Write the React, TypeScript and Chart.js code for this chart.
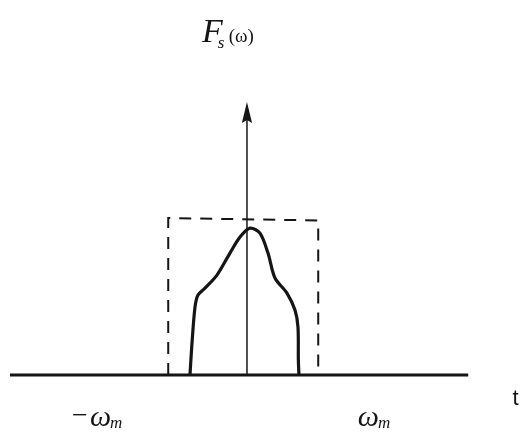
import React, { useEffect, useRef } from "react";
import { Chart, registerables } from "chart.js";

Chart.register(...registerables);

// Frequency axis in units of ω_m, amplitude in units of the ideal filter height
const X_MIN = -3.293;
const X_MAX = 3.787;
const Y_MIN = -0.369;
const Y_MAX = 2.389;

// Horizontal (frequency) axis extent
const axisX = [-3.16, 2.95];
// Vertical axis: from the baseline up to the arrow tip
const axisTop = 1.74;

// Ideal low-pass window (dashed)
const windowX = [-1.05, 0.95];
const windowTop = [1.0, 0.985];

// Spectrum F_s(ω)
const spectrumX = [-0.76, -0.733, -0.693, -0.653, -0.56, -0.4, -0.227, -0.093, 0.04, 0.173, 0.28, 0.373, 0.533, 0.64, 0.68, 0.685, 0.693];
const spectrumY = [0, 0.204, 0.433, 0.51, 0.554, 0.637, 0.777, 0.879, 0.936, 0.904, 0.777, 0.618, 0.522, 0.414, 0.306, 0.096, 0];

// Text labels, placed in data coordinates
const labelNegX = -1.99;
const labelPosX = 1.7;
const labelY = -0.325;
const labelTX = 3.58;
const labelTY = -0.19;
const titleX = -0.6;
const titleY = 2.12;

const INK = "#151515";
const SERIF = "'Liberation Serif', 'DejaVu Serif', serif";

const annotations = {
  id: "annotations",
  afterDatasetsDraw(chart: any) {
    const { ctx, scales } = chart;
    const xs = scales.x;
    const ys = scales.y;
    const px = (v: number) => xs.getPixelForValue(v);
    const py = (v: number) => ys.getPixelForValue(v);
    ctx.save();
    ctx.fillStyle = INK;

    // arrow head on the vertical axis
    const tipY = py(axisTop);
    const baseY = py(axisTop - 0.135);
    const cx = px(0);
    const half = Math.abs(px(0.068) - px(0));
    ctx.beginPath();
    ctx.moveTo(cx, tipY);
    ctx.lineTo(cx + half, baseY);
    ctx.lineTo(cx, baseY - 3);
    ctx.lineTo(cx - half, baseY);
    ctx.closePath();
    ctx.fill();

    ctx.textBaseline = "alphabetic";
    ctx.textAlign = "left";

    // F_s(ω)
    let x = px(titleX);
    let y = py(titleY);
    ctx.font = `italic 34px ${SERIF}`;
    ctx.fillText("F", x, y);
    const fw = ctx.measureText("F").width;
    ctx.font = `italic 17px ${SERIF}`;
    ctx.fillText("s", x + fw - 5, y + 6);
    ctx.font = `19px ${SERIF}`;
    ctx.fillText("(ω)", x + fw + 6, y);

    // −ω_m
    x = px(labelNegX);
    y = py(labelY);
    ctx.font = `28px ${SERIF}`;
    const neg = "−";
    const nw = ctx.measureText(neg).width;
    ctx.font = `italic 30px ${SERIF}`;
    const ow = ctx.measureText("ω").width;
    ctx.font = `italic 17px ${SERIF}`;
    const mw = ctx.measureText("m").width;
    let start = x - (nw + 2 + ow + mw) / 2;
    ctx.font = `28px ${SERIF}`;
    ctx.fillText(neg, start, y - 2);
    ctx.font = `italic 30px ${SERIF}`;
    ctx.fillText("ω", start + nw + 2, y);
    ctx.font = `italic 17px ${SERIF}`;
    ctx.fillText("m", start + nw + 2 + ow - 1, y + 2);

    // ω_m
    x = px(labelPosX);
    start = x - (ow + mw) / 2;
    ctx.font = `italic 30px ${SERIF}`;
    ctx.fillText("ω", start, y);
    ctx.font = `italic 17px ${SERIF}`;
    ctx.fillText("m", start + ow - 1, y + 2);

    // t
    ctx.font = "22px 'Liberation Sans', 'DejaVu Sans', sans-serif";
    ctx.textAlign = "center";
    ctx.fillText("t", px(labelTX), py(labelTY));

    ctx.restore();
  },
};

export default function App() {
  const canvasRef = useRef<HTMLCanvasElement | null>(null);

  useEffect(() => {
    const canvas = canvasRef.current;
    if (!canvas) return;

    const chart = new Chart(canvas, {
      type: "scatter",
      data: {
        datasets: [
          {
            label: "frequency axis",
            data: axisX.map((v) => ({ x: v, y: 0 })),
            showLine: true,
            borderColor: INK,
            borderWidth: 3,
            pointRadius: 0,
          },
          {
            label: "vertical axis",
            data: [
              { x: 0, y: 0 },
              { x: 0, y: axisTop - 0.05 },
            ],
            showLine: true,
            borderColor: INK,
            borderWidth: 1.5,
            pointRadius: 0,
          },
          {
            label: "ideal window",
            data: [
              { x: windowX[0], y: 0 },
              { x: windowX[0], y: windowTop[0] },
              { x: windowX[1], y: windowTop[1] },
              { x: windowX[1], y: 0 },
            ],
            showLine: true,
            borderColor: INK,
            borderWidth: 2,
            borderDash: [12, 9],
            pointRadius: 0,
          },
          {
            label: "F_s(ω)",
            data: spectrumX.map((v, i) => ({ x: v, y: spectrumY[i] })),
            showLine: true,
            borderColor: INK,
            borderWidth: 3.2,
            tension: 0.3,
            pointRadius: 0,
          },
        ],
      },
      options: {
        responsive: false,
        animation: false,
        layout: { padding: 0 },
        plugins: {
          legend: { display: false },
          tooltip: { enabled: false },
          title: { display: false },
        },
        scales: {
          x: { type: "linear", min: X_MIN, max: X_MAX, display: false },
          y: { type: "linear", min: Y_MIN, max: Y_MAX, display: false },
        },
      },
      plugins: [annotations],
    });

    return () => chart.destroy();
  }, []);

  return (
    <div style={{ position: "fixed", left: 0, top: 0, width: 531, height: 433, background: "#ffffff" }}>
      <canvas ref={canvasRef} width={531} height={433} />
    </div>
  );
}
